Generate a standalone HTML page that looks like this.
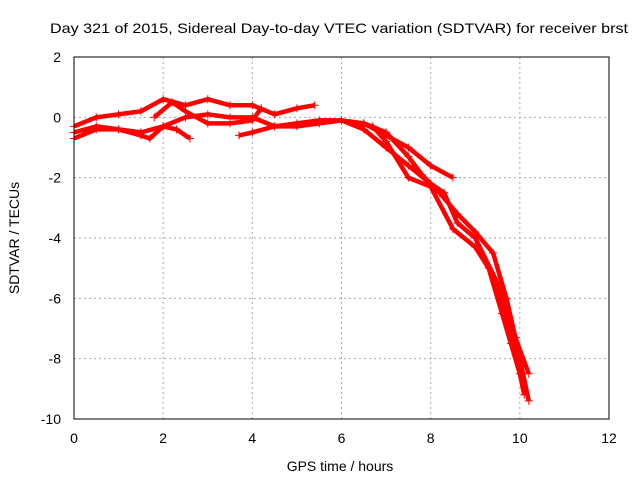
<!DOCTYPE html>
<html><head><meta charset="utf-8"><style>
body{margin:0;background:#fff;font-family:"Liberation Sans",sans-serif;}
svg text{font-family:"Liberation Sans",sans-serif;font-size:14px;fill:#000;}
</style></head><body>
<svg id="chart" width="640" height="480">
<rect width="640" height="480" fill="#fff"/>
<text x="50" y="33" textLength="578" lengthAdjust="spacingAndGlyphs">Day 321 of 2015, Sidereal Day-to-day VTEC variation (SDTVAR) for receiver brst</text>
<text x="340" y="471" text-anchor="middle">GPS time / hours</text>
<text transform="translate(19,238) rotate(-90)" text-anchor="middle">SDTVAR / TECUs</text>
<g id="grid"></g><g id="series"></g>
<rect x="74" y="57" width="535" height="362" fill="none" stroke="#000"/>
</svg>
<script>
const xTicks=[0,2,4,6,8,10,12];
const yTicks=[2,0,-2,-4,-6,-8,-10];
const s1x=[0,0.5,1,1.5,2,2.5,3,3.5,4,4.5,5,5.4];
const s1y=[-0.3,0.0,0.1,0.2,0.6,0.4,0.6,0.4,0.4,0.1,0.3,0.4];
const s2x=[0,0.5,1,1.5,1.7,2,2.5,3,3.5,4,4.5,5,5.5,6,6.5,7,7.5,8,8.5];
const s2y=[-0.5,-0.3,-0.4,-0.6,-0.7,-0.3,0.0,0.1,0.0,0.0,-0.3,-0.3,-0.2,-0.1,-0.2,-0.6,-1.0,-1.6,-2.0];
const s3x=[0,0.5,1,1.5,2,2.3,2.6];
const s3y=[-0.7,-0.4,-0.4,-0.5,-0.3,-0.4,-0.7];
const s4x=[3.7,4,4.5,5,5.5,6,6.5,7,7.5,8,8.3,8.6,9,9.5,9.7,10,10.2];
const s4y=[-0.6,-0.5,-0.3,-0.2,-0.1,-0.1,-0.4,-1.0,-1.6,-2.2,-2.5,-3.5,-4.0,-5.5,-6.5,-8.0,-9.4];
const s5x=[6,6.7,7,7.5,8,8.5,9,9.3,9.6,9.8,10,10.1];
const s5y=[-0.1,-0.3,-0.8,-2.0,-2.3,-3.7,-4.3,-5.0,-6.5,-7.5,-8.5,-9.2];
const s6x=[6.5,7,7.5,7.8,8.2,8.6,9,9.4,9.7,9.9,10.2];
const s6y=[-0.2,-0.5,-1.3,-1.9,-2.5,-3.2,-3.8,-4.5,-6.0,-7.3,-8.5];
const s7x=[1.8,2.2,2.5,3,3.5,4,4.2];
const s7y=[0.0,0.5,0.2,-0.2,-0.2,-0.1,0.3];
const X=v=>74+v*535/12, Y=v=>57+(2-v)*362/12;
const ns="http://www.w3.org/2000/svg", svg=document.getElementById('chart');
const g=document.getElementById('grid'), sg=document.getElementById('series');
xTicks.forEach(t=>{
 if(t>0&&t<12){const l=document.createElementNS(ns,'line');l.setAttribute('x1',X(t));l.setAttribute('x2',X(t));l.setAttribute('y1',57);l.setAttribute('y2',419);l.setAttribute('stroke','#aaa');l.setAttribute('stroke-dasharray','2,3');
 
 g.appendChild(l);}
 const tx=document.createElementNS(ns,'text');tx.setAttribute('x',X(t));tx.setAttribute('y',443);tx.setAttribute('text-anchor','middle');tx.textContent=t;
 
 g.appendChild(tx);
});
yTicks.forEach(t=>{
 if(t<2&&t>-10){const l=document.createElementNS(ns,'line');l.setAttribute('x1',74);l.setAttribute('x2',609);l.setAttribute('y1',Y(t));l.setAttribute('y2',Y(t));l.setAttribute('stroke','#aaa');l.setAttribute('stroke-dasharray','2,3');
 
 g.appendChild(l);}
 const tx=document.createElementNS(ns,'text');tx.setAttribute('x',61);tx.setAttribute('y',Y(t)+5);tx.setAttribute('text-anchor','end');tx.textContent=t;
 
 g.appendChild(tx);
});
[[s1x,s1y],[s2x,s2y],[s3x,s3y],[s4x,s4y],[s5x,s5y],[s6x,s6y],[s7x,s7y]].forEach((s,i)=>{
 const p=document.createElementNS(ns,'polyline');
 p.setAttribute('points',s[0].map((x,j)=>X(x)+','+Y(s[1][j])).join(' '));
 p.setAttribute('fill','none');p.setAttribute('stroke','#f00');p.setAttribute('stroke-width','4.5');p.setAttribute('stroke-linejoin','round');
 
 
 sg.appendChild(p);
 s[0].forEach((x,j)=>{const m=document.createElementNS(ns,'path');const cx=X(x),cy=Y(s[1][j]);
 m.setAttribute('d',`M${cx-4},${cy}H${cx+4}M${cx},${cy-4}V${cy+4}`);m.setAttribute('stroke','#f00');
 
 sg.appendChild(m);});
});
</script>
</body></html>
